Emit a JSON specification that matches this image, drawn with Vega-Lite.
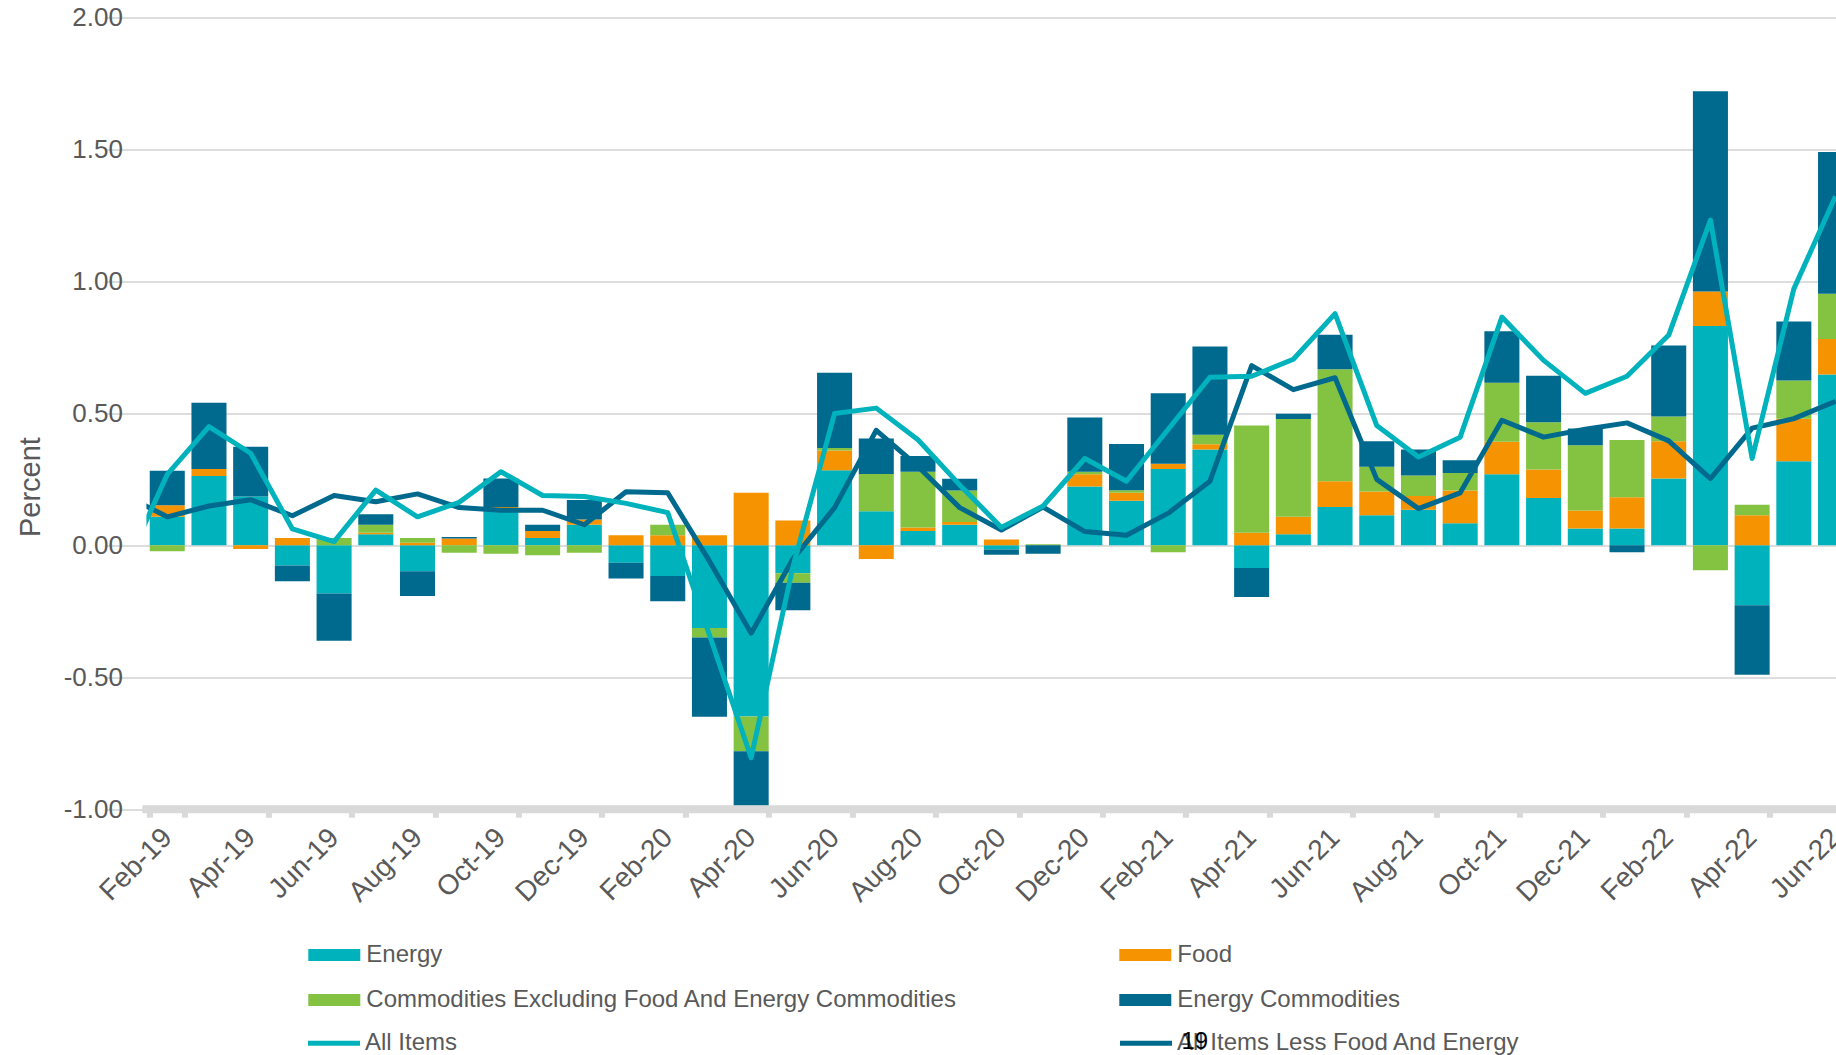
{
  "$schema": "https://vega.github.io/schema/vega-lite/v6.json",
  "width": 1689.6,
  "height": 791.6,
  "autosize": {"type": "none"},
  "padding": {"left": 146.4, "top": 17.6, "right": 0, "bottom": 245.8},
  "background": "white",
  "config": {"view": {"stroke": null}, "font": "Liberation Sans"},
  "title": {"text": "19", "orient": "bottom", "anchor": "start", "frame": "group", "dx": 1035, "offset": -26, "fontSize": 24, "fontWeight": "normal", "color": "#000000", "font": "Liberation Sans"},
  "datasets": {
    "bars": [
      {"month": "Feb-19", "Energy": 0.108, "Food": 0.044, "Commodities Excluding Food And Energy Commodities": -0.022, "Energy Commodities": 0.131},
      {"month": "Mar-19", "Energy": 0.263, "Food": 0.026, "Commodities Excluding Food And Energy Commodities": 0, "Energy Commodities": 0.251},
      {"month": "Apr-19", "Energy": 0.185, "Food": -0.014, "Commodities Excluding Food And Energy Commodities": 0, "Energy Commodities": 0.189},
      {"month": "May-19", "Energy": -0.076, "Food": 0.028, "Commodities Excluding Food And Energy Commodities": 0, "Energy Commodities": -0.06},
      {"month": "Jun-19", "Energy": -0.183, "Food": 0, "Commodities Excluding Food And Energy Commodities": 0.028, "Energy Commodities": -0.179},
      {"month": "Jul-19", "Energy": 0.042, "Food": 0.006, "Commodities Excluding Food And Energy Commodities": 0.03, "Energy Commodities": 0.04},
      {"month": "Aug-19", "Energy": -0.098, "Food": 0.01, "Commodities Excluding Food And Energy Commodities": 0.018, "Energy Commodities": -0.094},
      {"month": "Sep-19", "Energy": 0, "Food": 0.026, "Commodities Excluding Food And Energy Commodities": -0.028, "Energy Commodities": 0.006},
      {"month": "Oct-19", "Energy": 0.139, "Food": 0.006, "Commodities Excluding Food And Energy Commodities": -0.032, "Energy Commodities": 0.108},
      {"month": "Nov-19", "Energy": 0.028, "Food": 0.026, "Commodities Excluding Food And Energy Commodities": -0.038, "Energy Commodities": 0.024},
      {"month": "Dec-19", "Energy": 0.078, "Food": 0.02, "Commodities Excluding Food And Energy Commodities": -0.028, "Energy Commodities": 0.074},
      {"month": "Jan-20", "Energy": -0.066, "Food": 0.038, "Commodities Excluding Food And Energy Commodities": 0, "Energy Commodities": -0.06},
      {"month": "Feb-20", "Energy": -0.116, "Food": 0.038, "Commodities Excluding Food And Energy Commodities": 0.04, "Energy Commodities": -0.096},
      {"month": "Mar-20", "Energy": -0.313, "Food": 0.038, "Commodities Excluding Food And Energy Commodities": -0.036, "Energy Commodities": -0.301},
      {"month": "Apr-20", "Energy": -0.649, "Food": 0.199, "Commodities Excluding Food And Energy Commodities": -0.131, "Energy Commodities": -0.207},
      {"month": "May-20", "Energy": -0.106, "Food": 0.094, "Commodities Excluding Food And Energy Commodities": -0.036, "Energy Commodities": -0.104},
      {"month": "Jun-20", "Energy": 0.285, "Food": 0.074, "Commodities Excluding Food And Energy Commodities": 0.01, "Energy Commodities": 0.285},
      {"month": "Jul-20", "Energy": 0.129, "Food": -0.052, "Commodities Excluding Food And Energy Commodities": 0.141, "Energy Commodities": 0.135},
      {"month": "Aug-20", "Energy": 0.054, "Food": 0.014, "Commodities Excluding Food And Energy Commodities": 0.211, "Energy Commodities": 0.06},
      {"month": "Sep-20", "Energy": 0.078, "Food": 0.01, "Commodities Excluding Food And Energy Commodities": 0.12, "Energy Commodities": 0.044},
      {"month": "Oct-20", "Energy": -0.016, "Food": 0.022, "Commodities Excluding Food And Energy Commodities": 0, "Energy Commodities": -0.02},
      {"month": "Nov-20", "Energy": 0, "Food": 0, "Commodities Excluding Food And Energy Commodities": 0.004, "Energy Commodities": -0.032},
      {"month": "Dec-20", "Energy": 0.223, "Food": 0.046, "Commodities Excluding Food And Energy Commodities": 0.01, "Energy Commodities": 0.205},
      {"month": "Jan-21", "Energy": 0.169, "Food": 0.03, "Commodities Excluding Food And Energy Commodities": 0.01, "Energy Commodities": 0.175},
      {"month": "Feb-21", "Energy": 0.289, "Food": 0.02, "Commodities Excluding Food And Energy Commodities": -0.026, "Energy Commodities": 0.267},
      {"month": "Mar-21", "Energy": 0.363, "Food": 0.02, "Commodities Excluding Food And Energy Commodities": 0.036, "Energy Commodities": 0.335},
      {"month": "Apr-21", "Energy": -0.086, "Food": 0.048, "Commodities Excluding Food And Energy Commodities": 0.406, "Energy Commodities": -0.11},
      {"month": "May-21", "Energy": 0.042, "Food": 0.066, "Commodities Excluding Food And Energy Commodities": 0.371, "Energy Commodities": 0.02},
      {"month": "Jun-21", "Energy": 0.145, "Food": 0.098, "Commodities Excluding Food And Energy Commodities": 0.424, "Energy Commodities": 0.131},
      {"month": "Jul-21", "Energy": 0.114, "Food": 0.09, "Commodities Excluding Food And Energy Commodities": 0.094, "Energy Commodities": 0.096},
      {"month": "Aug-21", "Energy": 0.135, "Food": 0.052, "Commodities Excluding Food And Energy Commodities": 0.078, "Energy Commodities": 0.098},
      {"month": "Sep-21", "Energy": 0.084, "Food": 0.124, "Commodities Excluding Food And Energy Commodities": 0.066, "Energy Commodities": 0.048},
      {"month": "Oct-21", "Energy": 0.269, "Food": 0.124, "Commodities Excluding Food And Energy Commodities": 0.223, "Energy Commodities": 0.195},
      {"month": "Nov-21", "Energy": 0.179, "Food": 0.108, "Commodities Excluding Food And Energy Commodities": 0.179, "Energy Commodities": 0.177},
      {"month": "Dec-21", "Energy": 0.064, "Food": 0.068, "Commodities Excluding Food And Energy Commodities": 0.247, "Energy Commodities": 0.064},
      {"month": "Jan-22", "Energy": 0.064, "Food": 0.118, "Commodities Excluding Food And Energy Commodities": 0.217, "Energy Commodities": -0.026},
      {"month": "Feb-22", "Energy": 0.253, "Food": 0.141, "Commodities Excluding Food And Energy Commodities": 0.094, "Energy Commodities": 0.269},
      {"month": "Mar-22", "Energy": 0.831, "Food": 0.131, "Commodities Excluding Food And Energy Commodities": -0.094, "Energy Commodities": 0.759},
      {"month": "Apr-22", "Energy": -0.227, "Food": 0.114, "Commodities Excluding Food And Energy Commodities": 0.04, "Energy Commodities": -0.263},
      {"month": "May-22", "Energy": 0.319, "Food": 0.161, "Commodities Excluding Food And Energy Commodities": 0.145, "Energy Commodities": 0.223},
      {"month": "Jun-22", "Energy": 0.647, "Food": 0.135, "Commodities Excluding Food And Energy Commodities": 0.171, "Energy Commodities": 0.538}
    ],
    "lines": [
      {"month": "Jan-19", "All Items": -0.08, "All Items Less Food And Energy": 0.189},
      {"month": "Feb-19", "All Items": 0.269, "All Items Less Food And Energy": 0.108},
      {"month": "Mar-19", "All Items": 0.45, "All Items Less Food And Energy": 0.149},
      {"month": "Apr-19", "All Items": 0.349, "All Items Less Food And Energy": 0.173},
      {"month": "May-19", "All Items": 0.062, "All Items Less Food And Energy": 0.112},
      {"month": "Jun-19", "All Items": 0.014, "All Items Less Food And Energy": 0.189},
      {"month": "Jul-19", "All Items": 0.209, "All Items Less Food And Energy": 0.165},
      {"month": "Aug-19", "All Items": 0.108, "All Items Less Food And Energy": 0.195},
      {"month": "Sep-19", "All Items": 0.163, "All Items Less Food And Energy": 0.143},
      {"month": "Oct-19", "All Items": 0.279, "All Items Less Food And Energy": 0.133},
      {"month": "Nov-19", "All Items": 0.189, "All Items Less Food And Energy": 0.133},
      {"month": "Dec-19", "All Items": 0.185, "All Items Less Food And Energy": 0.078},
      {"month": "Jan-20", "All Items": 0.159, "All Items Less Food And Energy": 0.203},
      {"month": "Feb-20", "All Items": 0.124, "All Items Less Food And Energy": 0.199},
      {"month": "Mar-20", "All Items": -0.34, "All Items Less Food And Energy": -0.06},
      {"month": "Apr-20", "All Items": -0.805, "All Items Less Food And Energy": -0.333},
      {"month": "May-20", "All Items": -0.082, "All Items Less Food And Energy": -0.052},
      {"month": "Jun-20", "All Items": 0.5, "All Items Less Food And Energy": 0.143},
      {"month": "Jul-20", "All Items": 0.52, "All Items Less Food And Energy": 0.436},
      {"month": "Aug-20", "All Items": 0.4, "All Items Less Food And Energy": 0.299},
      {"month": "Sep-20", "All Items": 0.229, "All Items Less Food And Energy": 0.143},
      {"month": "Oct-20", "All Items": 0.068, "All Items Less Food And Energy": 0.058},
      {"month": "Nov-20", "All Items": 0.149, "All Items Less Food And Energy": 0.145},
      {"month": "Dec-20", "All Items": 0.329, "All Items Less Food And Energy": 0.052},
      {"month": "Jan-21", "All Items": 0.243, "All Items Less Food And Energy": 0.038},
      {"month": "Feb-21", "All Items": 0.44, "All Items Less Food And Energy": 0.122},
      {"month": "Mar-21", "All Items": 0.637, "All Items Less Food And Energy": 0.243},
      {"month": "Apr-21", "All Items": 0.641, "All Items Less Food And Energy": 0.681},
      {"month": "May-21", "All Items": 0.705, "All Items Less Food And Energy": 0.59},
      {"month": "Jun-21", "All Items": 0.878, "All Items Less Food And Energy": 0.635},
      {"month": "Jul-21", "All Items": 0.454, "All Items Less Food And Energy": 0.25},
      {"month": "Aug-21", "All Items": 0.335, "All Items Less Food And Energy": 0.139},
      {"month": "Sep-21", "All Items": 0.41, "All Items Less Food And Energy": 0.199},
      {"month": "Oct-21", "All Items": 0.865, "All Items Less Food And Energy": 0.474},
      {"month": "Nov-21", "All Items": 0.701, "All Items Less Food And Energy": 0.41},
      {"month": "Dec-21", "All Items": 0.576, "All Items Less Food And Energy": 0.44},
      {"month": "Jan-22", "All Items": 0.641, "All Items Less Food And Energy": 0.464},
      {"month": "Feb-22", "All Items": 0.797, "All Items Less Food And Energy": 0.396},
      {"month": "Mar-22", "All Items": 1.233, "All Items Less Food And Energy": 0.253},
      {"month": "Apr-22", "All Items": 0.329, "All Items Less Food And Energy": 0.444},
      {"month": "May-22", "All Items": 0.972, "All Items Less Food And Energy": 0.48},
      {"month": "Jun-22", "All Items": 1.323, "All Items Less Food And Energy": 0.546}
    ]
  },
  "layer": [
    {
      "data": {"name": "bars"},
      "transform": [
        {"fold": ["Energy", "Food", "Commodities Excluding Food And Energy Commodities", "Energy Commodities"], "as": ["series", "value"]},
        {"calculate": "indexof(['Energy', 'Food', 'Commodities Excluding Food And Energy Commodities', 'Energy Commodities'], datum.series)", "as": "stackOrder"}
      ],
      "mark": {"type": "bar"},
      "encoding": {
        "x": {
          "field": "month", "type": "ordinal",
          "scale": {
            "domain": ["Jan-19","Feb-19","Mar-19","Apr-19","May-19","Jun-19","Jul-19","Aug-19","Sep-19","Oct-19","Nov-19","Dec-19","Jan-20","Feb-20","Mar-20","Apr-20","May-20","Jun-20","Jul-20","Aug-20","Sep-20","Oct-20","Nov-20","Dec-20","Jan-21","Feb-21","Mar-21","Apr-21","May-21","Jun-21","Jul-21","Aug-21","Sep-21","Oct-21","Nov-21","Dec-21","Jan-22","Feb-22","Mar-22","Apr-22","May-22","Jun-22"],
            "range": [-41.7, 1710],
            "paddingInner": 0.16,
            "paddingOuter": 0.08
          },
          "axis": {
            "title": null,
            "values": ["Feb-19","Apr-19","Jun-19","Aug-19","Oct-19","Dec-19","Feb-20","Apr-20","Jun-20","Aug-20","Oct-20","Dec-20","Feb-21","Apr-21","Jun-21","Aug-21","Oct-21","Dec-21","Feb-22","Apr-22","Jun-22"],
            "domain": false,
            "grid": false,
            "ticks": true,
            "tickBand": "extent",
            "tickColor": "#D9D9D9",
            "tickWidth": 6,
            "tickSize": 8,
            "labelAngle": -45,
            "labelAlign": "right",
            "labelBaseline": "middle",
            "labelFontSize": 28,
            "labelColor": "#595959",
            "labelPadding": 16,
            "labelOverlap": false,
            "labelBound": false,
            "labelFlush": false
          }
        },
        "y": {
          "field": "value", "type": "quantitative", "stack": "zero",
          "scale": {"domain": [-1, 2], "nice": false, "zero": false},
          "axis": {
            "title": "Percent",
            "titleFontSize": 29,
            "titleFontWeight": "normal",
            "titleColor": "#595959",
            "titleAngle": 270,
            "titleAlign": "center",
            "titleBaseline": "alphabetic",
            "titleX": -107,
            "titleY": 469,
            "values": [-1, -0.5, 0, 0.5, 1, 1.5, 2],
            "labelExpr": "replace(format(datum.value, '.2f'), '−', '-')",
            "labelFontSize": 26,
            "labelColor": "#595959",
            "labelPadding": 24,
            "labelFlush": false,
            "domain": false,
            "ticks": false,
            "tickSize": 0,
            "grid": true,
            "gridColor": "#DDDDDD",
            "gridWidth": 2
          }
        },
        "fill": {
          "field": "series", "type": "nominal",
          "scale": {
            "domain": ["Energy", "Food", "Commodities Excluding Food And Energy Commodities", "Energy Commodities"],
            "range": ["#00B2BB", "#F59300", "#84C341", "#006A8E"]
          },
          "legend": {
            "title": null,
            "orient": "none",
            "direction": "horizontal",
            "legendX": 174.9,
            "legendY": 924.4,
            "columns": 2,
            "padding": 0,
            "symbolType": "M-2,-0.46H2V0.46H-2Z",
            "symbolSize": 676,
            "symbolStrokeWidth": 0,
            "symbolOpacity": 1,
            "labelFontSize": 24,
            "labelColor": "#595959",
            "labelOffset": 19,
            "labelLimit": 1000,
            "rowPadding": 20,
            "columnPadding": 162
          }
        },
        "order": {"field": "stackOrder", "type": "quantitative"}
      }
    },
    {
      "data": {"name": "lines"},
      "transform": [
        {"fold": ["All Items", "All Items Less Food And Energy"], "as": ["series", "value"]},
        {"filter": "datum.series === 'All Items Less Food And Energy'"}
      ],
      "mark": {"type": "line", "strokeWidth": 5, "clip": true, "strokeJoin": "round"},
      "encoding": {
        "x": {"field": "month", "type": "ordinal"},
        "y": {"field": "value", "type": "quantitative"},
        "stroke": {
          "field": "series", "type": "nominal",
          "scale": {"domain": ["All Items", "All Items Less Food And Energy"], "range": ["#00B2BB", "#006A8E"]},
          "legend": {
            "title": null,
            "orient": "none",
            "direction": "horizontal",
            "legendX": 172.1,
            "legendY": 1009.9,
            "columns": 2,
            "padding": 0,
            "symbolType": "M-2,0H2",
            "symbolSize": 676,
            "symbolStrokeWidth": 5,
            "labelFontSize": 24,
            "labelColor": "#595959",
            "labelOffset": 15.5,
            "labelLimit": 1000,
            "columnPadding": 652
          }
        }
      }
    },
    {
      "data": {"name": "lines"},
      "transform": [
        {"fold": ["All Items", "All Items Less Food And Energy"], "as": ["series", "value"]},
        {"filter": "datum.series === 'All Items'"}
      ],
      "mark": {"type": "line", "strokeWidth": 5, "clip": true, "strokeJoin": "round"},
      "encoding": {
        "x": {"field": "month", "type": "ordinal"},
        "y": {"field": "value", "type": "quantitative"},
        "stroke": {"field": "series", "type": "nominal"}
      }
    },
    {
      "data": {"values": [{}]},
      "mark": {"type": "rule", "color": "#D9D9D9", "strokeWidth": 8, "strokeCap": "square"},
      "encoding": {"y": {"datum": -1}}
    }
  ]
}
